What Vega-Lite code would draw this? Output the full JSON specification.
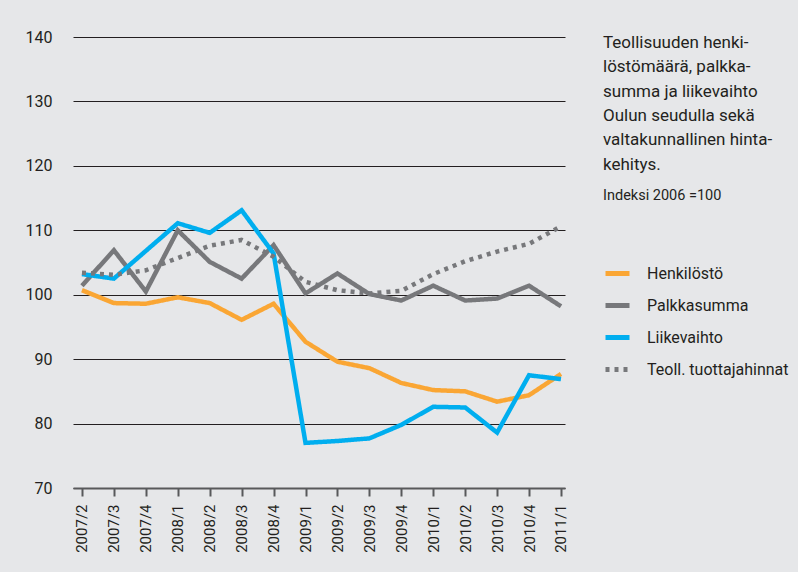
{
  "$schema": "https://vega.github.io/schema/vega-lite/v6.json",
  "autosize": "none",
  "width": 492,
  "height": 451,
  "padding": {"left": 73, "top": 37, "right": 233, "bottom": 84},
  "background": "#e6e7e9",
  "config": {
    "font": "Roboto",
    "view": {"stroke": null}
  },
  "title": {
    "text": ["Teollisuuden henki-", "löstömäärä, palkka-", "summa ja liikevaihto", "Oulun seudulla sekä", "valtakunnallinen hinta-", "kehitys."],
    "subtitle": "Indeksi 2006 =100",
    "orient": "top",
    "anchor": "start",
    "align": "left",
    "baseline": "top",
    "frame": "group",
    "offset": -174,
    "dx": 530,
    "fontSize": 17,
    "fontWeight": "normal",
    "lineHeight": 24.3,
    "color": "#231f20",
    "subtitleFontSize": 14.5,
    "subtitleColor": "#231f20",
    "subtitlePadding": 15
  },
  "data": {
    "values": [
      {"q": "2007/2", "s": "Henkilöstö", "v": 100.7},
      {"q": "2007/3", "s": "Henkilöstö", "v": 98.7},
      {"q": "2007/4", "s": "Henkilöstö", "v": 98.6},
      {"q": "2008/1", "s": "Henkilöstö", "v": 99.6},
      {"q": "2008/2", "s": "Henkilöstö", "v": 98.7},
      {"q": "2008/3", "s": "Henkilöstö", "v": 96.1},
      {"q": "2008/4", "s": "Henkilöstö", "v": 98.6},
      {"q": "2009/1", "s": "Henkilöstö", "v": 92.7},
      {"q": "2009/2", "s": "Henkilöstö", "v": 89.6},
      {"q": "2009/3", "s": "Henkilöstö", "v": 88.6},
      {"q": "2009/4", "s": "Henkilöstö", "v": 86.3},
      {"q": "2010/1", "s": "Henkilöstö", "v": 85.2},
      {"q": "2010/2", "s": "Henkilöstö", "v": 85.0},
      {"q": "2010/3", "s": "Henkilöstö", "v": 83.4},
      {"q": "2010/4", "s": "Henkilöstö", "v": 84.4},
      {"q": "2011/1", "s": "Henkilöstö", "v": 87.7},
      {"q": "2007/2", "s": "Palkkasumma", "v": 101.4},
      {"q": "2007/3", "s": "Palkkasumma", "v": 106.9},
      {"q": "2007/4", "s": "Palkkasumma", "v": 100.5},
      {"q": "2008/1", "s": "Palkkasumma", "v": 110.0},
      {"q": "2008/2", "s": "Palkkasumma", "v": 105.1},
      {"q": "2008/3", "s": "Palkkasumma", "v": 102.5},
      {"q": "2008/4", "s": "Palkkasumma", "v": 107.7},
      {"q": "2009/1", "s": "Palkkasumma", "v": 100.2},
      {"q": "2009/2", "s": "Palkkasumma", "v": 103.3},
      {"q": "2009/3", "s": "Palkkasumma", "v": 100.1},
      {"q": "2009/4", "s": "Palkkasumma", "v": 99.1},
      {"q": "2010/1", "s": "Palkkasumma", "v": 101.4},
      {"q": "2010/2", "s": "Palkkasumma", "v": 99.1},
      {"q": "2010/3", "s": "Palkkasumma", "v": 99.4},
      {"q": "2010/4", "s": "Palkkasumma", "v": 101.4},
      {"q": "2011/1", "s": "Palkkasumma", "v": 98.2},
      {"q": "2007/2", "s": "Liikevaihto", "v": 103.2},
      {"q": "2007/3", "s": "Liikevaihto", "v": 102.5},
      {"q": "2007/4", "s": "Liikevaihto", "v": 106.8},
      {"q": "2008/1", "s": "Liikevaihto", "v": 111.1},
      {"q": "2008/2", "s": "Liikevaihto", "v": 109.6},
      {"q": "2008/3", "s": "Liikevaihto", "v": 113.1},
      {"q": "2008/4", "s": "Liikevaihto", "v": 106.4},
      {"q": "2009/1", "s": "Liikevaihto", "v": 77.0},
      {"q": "2009/2", "s": "Liikevaihto", "v": 77.3},
      {"q": "2009/3", "s": "Liikevaihto", "v": 77.7},
      {"q": "2009/4", "s": "Liikevaihto", "v": 79.8},
      {"q": "2010/1", "s": "Liikevaihto", "v": 82.6},
      {"q": "2010/2", "s": "Liikevaihto", "v": 82.5},
      {"q": "2010/3", "s": "Liikevaihto", "v": 78.6},
      {"q": "2010/4", "s": "Liikevaihto", "v": 87.5},
      {"q": "2011/1", "s": "Liikevaihto", "v": 86.9},
      {"q": "2007/2", "s": "Teoll. tuottajahinnat", "v": 103.4},
      {"q": "2007/3", "s": "Teoll. tuottajahinnat", "v": 103.1},
      {"q": "2007/4", "s": "Teoll. tuottajahinnat", "v": 103.8},
      {"q": "2008/1", "s": "Teoll. tuottajahinnat", "v": 105.7},
      {"q": "2008/2", "s": "Teoll. tuottajahinnat", "v": 107.6},
      {"q": "2008/3", "s": "Teoll. tuottajahinnat", "v": 108.5},
      {"q": "2008/4", "s": "Teoll. tuottajahinnat", "v": 105.9},
      {"q": "2009/1", "s": "Teoll. tuottajahinnat", "v": 102.0},
      {"q": "2009/2", "s": "Teoll. tuottajahinnat", "v": 100.7},
      {"q": "2009/3", "s": "Teoll. tuottajahinnat", "v": 100.2},
      {"q": "2009/4", "s": "Teoll. tuottajahinnat", "v": 100.6},
      {"q": "2010/1", "s": "Teoll. tuottajahinnat", "v": 103.2},
      {"q": "2010/2", "s": "Teoll. tuottajahinnat", "v": 105.2},
      {"q": "2010/3", "s": "Teoll. tuottajahinnat", "v": 106.7},
      {"q": "2010/4", "s": "Teoll. tuottajahinnat", "v": 107.9},
      {"q": "2011/1", "s": "Teoll. tuottajahinnat", "v": 110.6}
    ]
  },
  "mark": {"type": "line", "strokeWidth": 4.5, "strokeCap": "butt", "strokeJoin": "miter"},
  "encoding": {
    "x": {
      "field": "q",
      "type": "ordinal",
      "scale": {"type": "point", "padding": 0.2035, "align": 0.69},
      "axis": {
        "title": null,
        "labelAngle": 270,
        "labelAlign": "right",
        "labelBaseline": "middle",
        "labelFontSize": 15,
        "labelColor": "#231f20",
        "labelPadding": 8,
        "tickSize": 8,
        "tickWidth": 2,
        "tickColor": "#58595b",
        "domainColor": "#58595b",
        "domainWidth": 2,
        "grid": false
      }
    },
    "y": {
      "field": "v",
      "type": "quantitative",
      "scale": {"domain": [70, 140], "nice": false, "zero": false},
      "axis": {
        "title": null,
        "values": [70, 80, 90, 100, 110, 120, 130, 140],
        "ticks": false,
        "domain": false,
        "grid": true,
        "gridColor": "#231f20",
        "gridWidth": 1,
        "gridOpacity": 1,
        "labelFontSize": 16,
        "labelColor": "#231f20",
        "labelPadding": 21
      }
    },
    "color": {
      "field": "s",
      "type": "nominal",
      "sort": ["Henkilöstö", "Palkkasumma", "Liikevaihto", "Teoll. tuottajahinnat"],
      "scale": {
        "domain": ["Henkilöstö", "Palkkasumma", "Liikevaihto", "Teoll. tuottajahinnat"],
        "range": ["#faa634", "#77787b", "#00aeef", "#77787b"]
      },
      "legend": {
        "title": null,
        "orient": "none",
        "legendX": 530,
        "legendY": 222,
        "symbolType": "stroke",
        "symbolSize": 576,
        "symbolStrokeWidth": 5,
        "labelFontSize": 16,
        "labelColor": "#231f20",
        "labelOffset": 15,
        "rowPadding": 7,
        "labelLimit": 300
      }
    },
    "strokeDash": {
      "field": "s",
      "type": "nominal",
      "scale": {
        "domain": ["Henkilöstö", "Palkkasumma", "Liikevaihto", "Teoll. tuottajahinnat"],
        "range": [[1, 0], [1, 0], [1, 0], [4, 5]]
      },
      "legend": {
        "title": null,
        "orient": "none",
        "legendX": 530,
        "legendY": 222,
        "symbolType": "stroke",
        "symbolSize": 576,
        "symbolStrokeWidth": 5,
        "labelFontSize": 16,
        "labelColor": "#231f20",
        "labelOffset": 15,
        "rowPadding": 7,
        "labelLimit": 300
      }
    }
  }
}
